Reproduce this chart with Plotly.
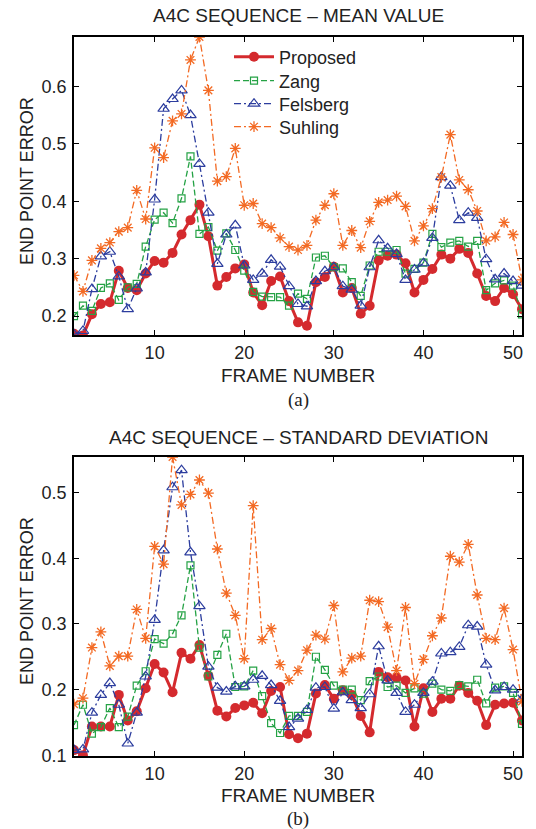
import plotly.graph_objects as go

frames = list(range(1, 52))

# Mean value (a)
mean_proposed = [0.169,0.166,0.203,0.221,0.224,0.279,0.249,0.245,0.274,0.296,0.293,0.310,0.342,0.367,0.394,0.339,0.253,
                 0.268,0.283,0.290,0.241,0.219,0.261,0.269,0.226,0.189,0.183,0.259,0.268,0.286,0.241,0.249,0.204,
                 0.218,0.297,0.305,0.307,0.292,0.241,0.263,0.282,0.307,0.300,0.317,0.310,0.274,0.235,0.226,0.249,0.238,0.212]
mean_zang = [0.200,0.218,0.209,0.249,0.257,0.228,0.250,0.256,0.321,0.368,0.380,0.362,0.405,0.478,0.343,0.355,0.314,
             0.344,0.315,0.279,0.242,0.234,0.233,0.233,0.218,0.239,0.230,0.302,0.305,0.285,0.283,0.259,0.235,
             0.288,0.312,0.312,0.315,0.274,0.282,0.293,0.343,0.320,0.328,0.331,0.321,0.331,0.245,0.257,0.262,0.253,0.203]
mean_felsberg = [0.168,0.174,0.247,0.304,0.312,0.269,0.212,0.248,0.276,0.403,0.561,0.578,0.593,0.550,0.465,0.380,0.291,
                 0.342,0.358,0.288,0.263,0.274,0.298,0.286,0.252,0.221,0.217,0.261,0.278,0.285,0.252,0.246,0.218,
                 0.285,0.332,0.318,0.308,0.263,0.281,0.292,0.336,0.442,0.427,0.367,0.380,0.371,0.299,0.264,0.274,0.261,0.253]
mean_suhling = [0.271,0.243,0.297,0.318,0.328,0.347,0.354,0.419,0.369,0.493,0.476,0.540,0.552,0.646,0.686,0.593,0.435,
                0.443,0.492,0.393,0.396,0.361,0.354,0.336,0.321,0.315,0.323,0.367,0.393,0.413,0.323,0.349,0.319,
                0.365,0.398,0.402,0.409,0.391,0.331,0.357,0.387,0.442,0.516,0.437,0.420,0.383,0.331,0.338,0.363,0.342,0.263]

# Standard deviation (b)
std_proposed = [0.108,0.100,0.144,0.144,0.144,0.192,0.153,0.167,0.202,0.239,0.226,0.196,0.256,0.247,0.268,0.221,0.168,
                0.159,0.172,0.176,0.180,0.164,0.198,0.204,0.132,0.126,0.133,0.194,0.207,0.186,0.199,0.192,0.160,
                0.135,0.227,0.219,0.218,0.214,0.144,0.202,0.166,0.186,0.186,0.206,0.195,0.183,0.146,0.177,0.179,0.180,0.153]
std_zang = [0.146,0.177,0.133,0.143,0.172,0.143,0.159,0.206,0.228,0.277,0.270,0.285,0.313,0.389,0.264,0.220,0.253,
            0.285,0.204,0.205,0.229,0.190,0.149,0.134,0.160,0.160,0.166,0.250,0.230,0.206,0.200,0.200,0.184,
            0.213,0.220,0.204,0.206,0.195,0.202,0.194,0.209,0.200,0.198,0.207,0.205,0.215,0.179,0.203,0.205,0.195,0.148]
std_felsberg = [0.108,0.109,0.165,0.192,0.210,0.177,0.118,0.165,0.220,0.306,0.412,0.508,0.534,0.409,0.327,0.235,0.203,
                0.197,0.205,0.205,0.215,0.221,0.207,0.183,0.143,0.156,0.169,0.203,0.204,0.171,0.196,0.184,0.172,
                0.193,0.266,0.214,0.195,0.166,0.177,0.195,0.212,0.255,0.257,0.265,0.298,0.296,0.238,0.199,0.204,0.200,0.185]
std_suhling = [0.178,0.187,0.264,0.288,0.236,0.251,0.251,0.322,0.278,0.418,0.391,0.554,0.481,0.497,0.519,0.499,0.414,
               0.347,0.313,0.247,0.480,0.276,0.293,0.238,0.214,0.229,0.260,0.283,0.277,0.328,0.227,0.248,0.251,
               0.336,0.334,0.295,0.229,0.325,0.209,0.246,0.282,0.309,0.403,0.394,0.421,0.344,0.278,0.276,0.324,0.261,0.182]

series_names = ["Proposed", "Zang", "Felsberg", "Suhling"]
xticks = [10, 20, 30, 40, 50]
yticks_a = [0.2, 0.3, 0.4, 0.5, 0.6]
yticks_b = [0.1, 0.2, 0.3, 0.4, 0.5]

RED = "#d42a2e"
GREEN = "#25a245"
BLUE = "#2c3d9e"
ORANGE = "#f36a24"

W, H = 536, 829
ML, MR, MT, MB = 74, 14, 37, 73
PW = W - ML - MR
PH = H - MT - MB

def py(y):
    return (H - MB - y) / PH

def px(x):
    return (x - ML) / PW

fig = go.Figure()

legend_ids = ["legend", "legend2", "legend3", "legend4"]

def add_series(yvals, xa, ya, show):
    styles = [
        (dict(color=RED, width=3, dash="solid"),
         dict(symbol="circle", size=10, color=RED, line=dict(width=0))),
        (dict(color=GREEN, width=1.3, dash="6px,3px"),
         dict(symbol="square-open", size=7, color=GREEN, line=dict(width=1.2, color=GREEN))),
        (dict(color=BLUE, width=1.3, dash="7px,3px,2px,3px"),
         dict(symbol="triangle-up-open", size=10, color=BLUE, line=dict(width=1.2, color=BLUE))),
        (dict(color=ORANGE, width=1.3, dash="7px,3px,2px,3px"),
         dict(symbol="asterisk-open", size=9, color=ORANGE, line=dict(width=1.3, color=ORANGE))),
    ]
    for i, (name, yv, (line, marker)) in enumerate(zip(series_names, yvals, styles)):
        fig.add_trace(go.Scatter(x=frames, y=yv, mode="lines+markers", name=name,
                                 line=line, marker=marker, xaxis=xa, yaxis=ya,
                                 showlegend=show, legend=legend_ids[i]))

add_series([mean_proposed, mean_zang, mean_felsberg, mean_suhling], "x", "y", True)
add_series([std_proposed, std_zang, std_felsberg, std_suhling], "x2", "y2", False)

FONT = "Liberation Sans, Arial, sans-serif"
axis_common = dict(showline=True, linecolor="black", linewidth=1.5, mirror="ticks",
                   ticks="inside", ticklen=5, tickwidth=1, tickcolor="black",
                   showgrid=False, zeroline=False,
                   tickfont=dict(family=FONT, size=18, color="#222"))

legend_centers = [57, 81, 104, 127]
legend_layout = {}
for lid, cy in zip(legend_ids, legend_centers):
    legend_layout[lid] = dict(x=px(229), y=py(cy), xanchor="left", yanchor="middle",
                              bgcolor="rgba(255,255,255,0)", borderwidth=0,
                              font=dict(family=FONT, size=18, color="#222"),
                              itemwidth=40)

fig.update_layout(
    width=W, height=H,
    margin=dict(l=ML, r=MR, t=MT, b=MB),
    paper_bgcolor="white", plot_bgcolor="white",
    xaxis=dict(domain=[0, 1], range=[1, 51], tickvals=xticks, anchor="y",
               ticklabelstandoff=1, **axis_common),
    yaxis=dict(domain=[py(335), 1], range=[0.167, 0.686], tickvals=yticks_a,
               tickformat=".1f", anchor="x", ticklabelstandoff=2, **axis_common),
    xaxis2=dict(domain=[0, 1], range=[1, 51], tickvals=xticks, anchor="y2",
                ticklabelstandoff=1, **axis_common),
    yaxis2=dict(domain=[0, py(457)], range=[0.099, 0.554], tickvals=yticks_b,
                tickformat=".1f", anchor="x2", ticklabelstandoff=2, **axis_common),
    showlegend=True,
    hovermode=False,
    **legend_layout,
)

ann = []
def add_text(text, x, y, size=19, family=FONT, angle=0):
    ann.append(dict(text=text, x=x, y=y, xref="paper", yref="paper",
                    xanchor="center", yanchor="middle", showarrow=False,
                    textangle=angle, font=dict(family=family, size=size, color="#222")))

add_text("A4C SEQUENCE \u2013 MEAN VALUE", px(298), py(16))
add_text("FRAME NUMBER", px(298), py(375))
add_text("(a)", px(298), py(400), family="Liberation Serif, Times New Roman, serif")
add_text("END POINT ERROR", px(27), py(181), size=18, angle=-90)

add_text("A4C SEQUENCE \u2013 STANDARD DEVIATION", px(298), py(437))
add_text("FRAME NUMBER", px(298), py(795))
add_text("(b)", px(298), py(819), family="Liberation Serif, Times New Roman, serif")
add_text("END POINT ERROR", px(27), py(601), size=18, angle=-90)

fig.update_layout(annotations=ann)

fig.write_html("out.html", config={"displayModeBar": False},
               post_script="document.body.style.margin='0px';document.body.style.overflow='hidden';")
